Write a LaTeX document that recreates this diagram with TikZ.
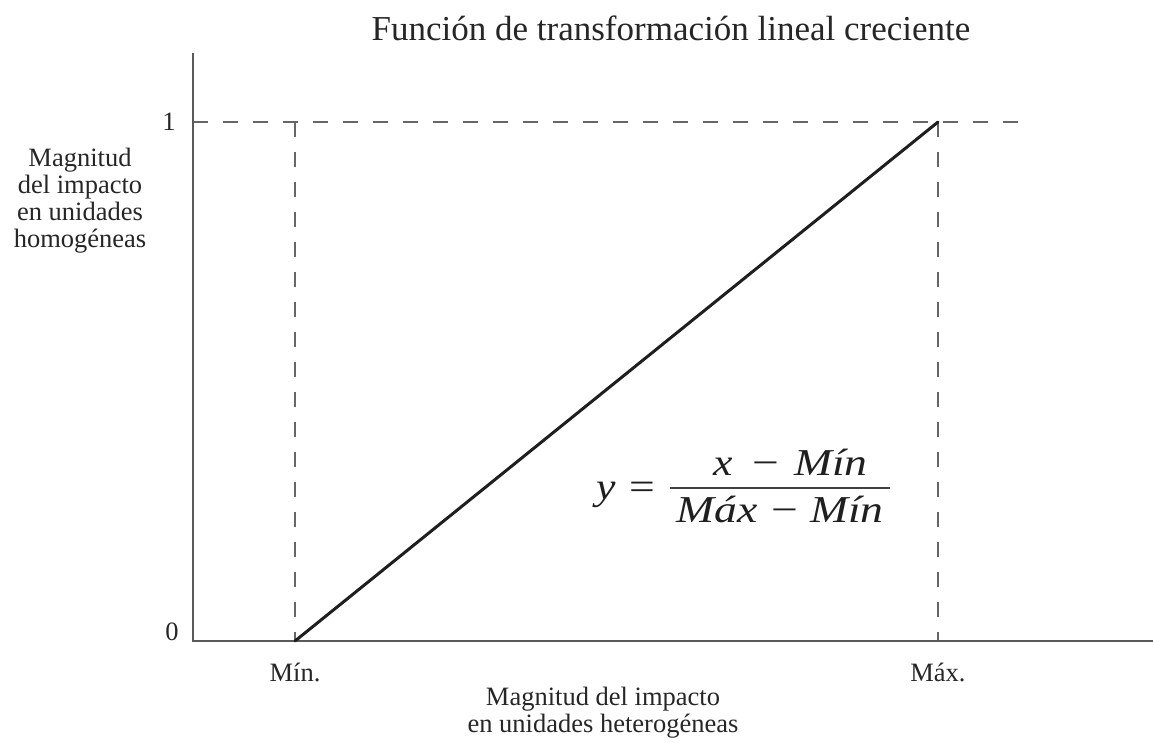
\documentclass[tikz,border=0pt]{standalone}
\usepackage{fontspec}
\setmainfont{Liberation Serif}
\begin{document}
\begin{tikzpicture}[x=1pt,y=-1pt,
  axis/.style={draw=black!65, line width=2pt},
  guide/.style={draw=black!60, line width=2pt, dash pattern=on 15pt off 15pt},
  graph/.style={draw=black!88, line width=3pt, line cap=round},
  lbl/.style={font=\fontsize{26.5}{27}\selectfont, text=black!85, inner sep=0pt, align=center},
  ttl/.style={font=\fontsize{35}{40}\selectfont, text=black!85, inner sep=0pt},
  eqt/.style={font=\fontsize{38}{40}\selectfont\itshape, text=black!88, inner sep=0pt, anchor=base},
  eqs/.style={font=\fontsize{38}{40}\selectfont, text=black!88, inner sep=0pt, anchor=base},
  fracbar/.style={draw=black!75, line width=1.8pt}]
\useasboundingbox (0,0) rectangle (1153,743);
\coordinate (O) at (193,641);
\coordinate (Ytop) at (193,53);
\coordinate (Xend) at (1153,641);
\coordinate (Y1) at (193,122);
\coordinate (H1end) at (1022,122);
\coordinate (MinB) at (295,641);
\coordinate (MinT) at (295,122);
\coordinate (MaxB) at (938,641);
\coordinate (MaxT) at (938,122);
\coordinate (BarL) at (670,488);
\coordinate (BarR) at (890,488);
% guides
\draw[guide] (Y1) -- (H1end);
\draw[guide] (MinT) -- (MinB);
\draw[guide] (MaxT) -- (MaxB);
% axes
\draw[axis] (Ytop) -- (O) -- (Xend);
% graph
\draw[graph] (MinB) -- (MaxT);
% texts
\node[ttl] (title) at (671,28) {Función de transformación lineal creciente};
\node[lbl] (ylab) at (80,201) {Magnitud\\del impacto\\en unidades\\homogéneas};
\node[lbl] (one) at (169,122) {1};
\node[lbl] (zero) at (172,632) {0};
\node[lbl] (minl) at (295,672) {Mín.};
\node[lbl] (maxl) at (938,672) {Máx.};
\node[lbl] (xlab) at (603,713) {Magnitud del impacto\\en unidades heterogéneas};
% formula
\node[eqt] (ey) at (606,499) {\scalebox{1.15}[1]{y}};
\node[eqs] (eeq) at (642,499) {\scalebox{1.2}[1]{=}};
\draw[fracbar] (BarL) -- (BarR);
\node[eqt] (nx) at (723,475) {\scalebox{1.15}[1]{x}};
\node[eqs] (nminus) at (766,475) {\scalebox{1.25}[1]{−}};
\node[eqt] (nmin) at (831,475) {\scalebox{1.2}[1]{Mín}};
\node[eqt] (dmax) at (717,522) {\scalebox{1.2}[1]{Máx}};
\node[eqs] (dminus) at (785,522) {\scalebox{1.25}[1]{−}};
\node[eqt] (dmin) at (847,522) {\scalebox{1.2}[1]{Mín}};
\end{tikzpicture}
\end{document}
